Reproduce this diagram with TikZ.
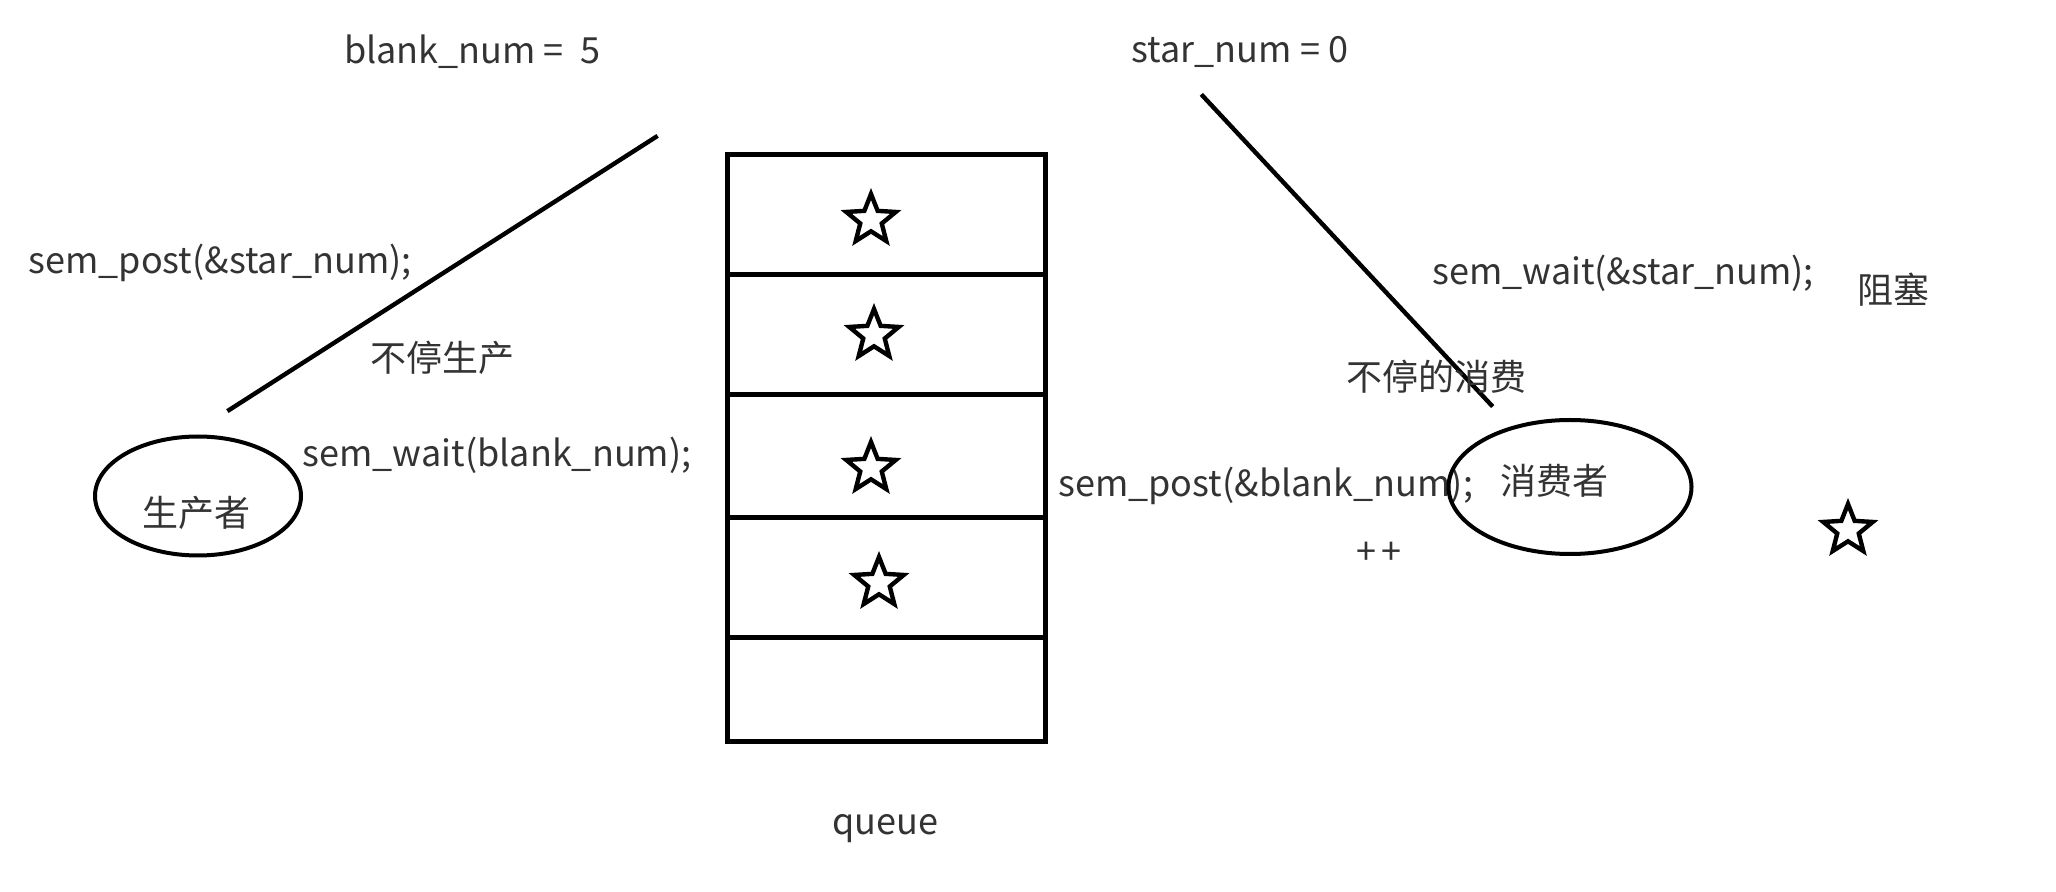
\documentclass[tikz,border=0pt]{standalone}
\usepackage{fontspec}
\setmainfont{Noto Sans CJK SC}
\usetikzlibrary{shapes.geometric}
\tikzset{
    lbl/.style={inner sep=0pt, text=black!80, font=\fontsize{18}{20}\selectfont},
    starmark/.style={star, star points=5, star point ratio=2.3, draw=black, line width=2.2pt, minimum size=26pt, inner sep=0pt},
    proc/.style={ellipse, draw=black, line width=2pt, inner sep=0pt},
    cellline/.style={black, line width=2.5pt},
}
\begin{document}
\begin{tikzpicture}[x=0.5pt, y=-0.5pt]
    \useasboundingbox (0, 0) rectangle (2056, 892);

    % queue
    \draw [cellline] (727, 155) rectangle (1045, 741);
    \draw [cellline] (727, 275) -- (1045, 275);
    \draw [cellline] (727, 395) -- (1045, 395);
    \draw [cellline] (727, 518) -- (1045, 518);
    \draw [cellline] (727, 638) -- (1045, 638);
    \node [lbl] at (885, 829) (queue) {queue};

    \node [starmark] at (871, 220) (s1) {};
    \node [starmark] at (874, 335) (s2) {};
    \node [starmark] at (871, 468) (s3) {};
    \node [starmark] at (879, 583) (s4) {};
    \node [starmark] at (1848, 530) (s5) {};

    % producer
    \node [lbl] at (472, 52) (blank) {blank\_num = \ 5};
    \node [inner sep=0pt] at (659, 135) (PT) {};
    \node [inner sep=0pt] at (226, 412) (PB) {};
    \draw [black, line width=2.2pt] (PT) -- (PB);
    \node [lbl] at (220, 263) (ppost) {sem\_post(\&star\_num);};
    \node [lbl] at (442, 358) (pmake) {不停生产};
    \node [lbl] at (497, 455) (pwait) {sem\_wait(blank\_num);};
    \node [proc, minimum width=103pt, minimum height=59.5pt] at (198, 496) (prod) {};
    \node [lbl] at (196, 513) (prodtxt) {生产者};

    % consumer
    \node [lbl] at (1240, 52) (star) {star\_num = 0};
    \node [inner sep=0pt] at (1200, 93) (CT) {};
    \node [inner sep=0pt] at (1494, 408) (CB) {};
    \draw [black, line width=2.2pt] (CT) -- (CB);
    \node [lbl] at (1623, 273) (cwait) {sem\_wait(\&star\_num);};
    \node [lbl] at (1893, 290) (block) {阻塞};
    \node [lbl] at (1436, 377) (ceat) {不停的消费};
    \node [lbl, anchor=west] at (1058, 486) (cpost) {sem\_post(\&blank\_num);};
    \node [lbl] at (1379, 553) (inc) {+\,+};
    \node [proc, minimum width=121.5pt, minimum height=67pt] at (1570, 487) (cons) {};
    \node [lbl] at (1554, 481) (constxt) {消费者};
\end{tikzpicture}
\end{document}
